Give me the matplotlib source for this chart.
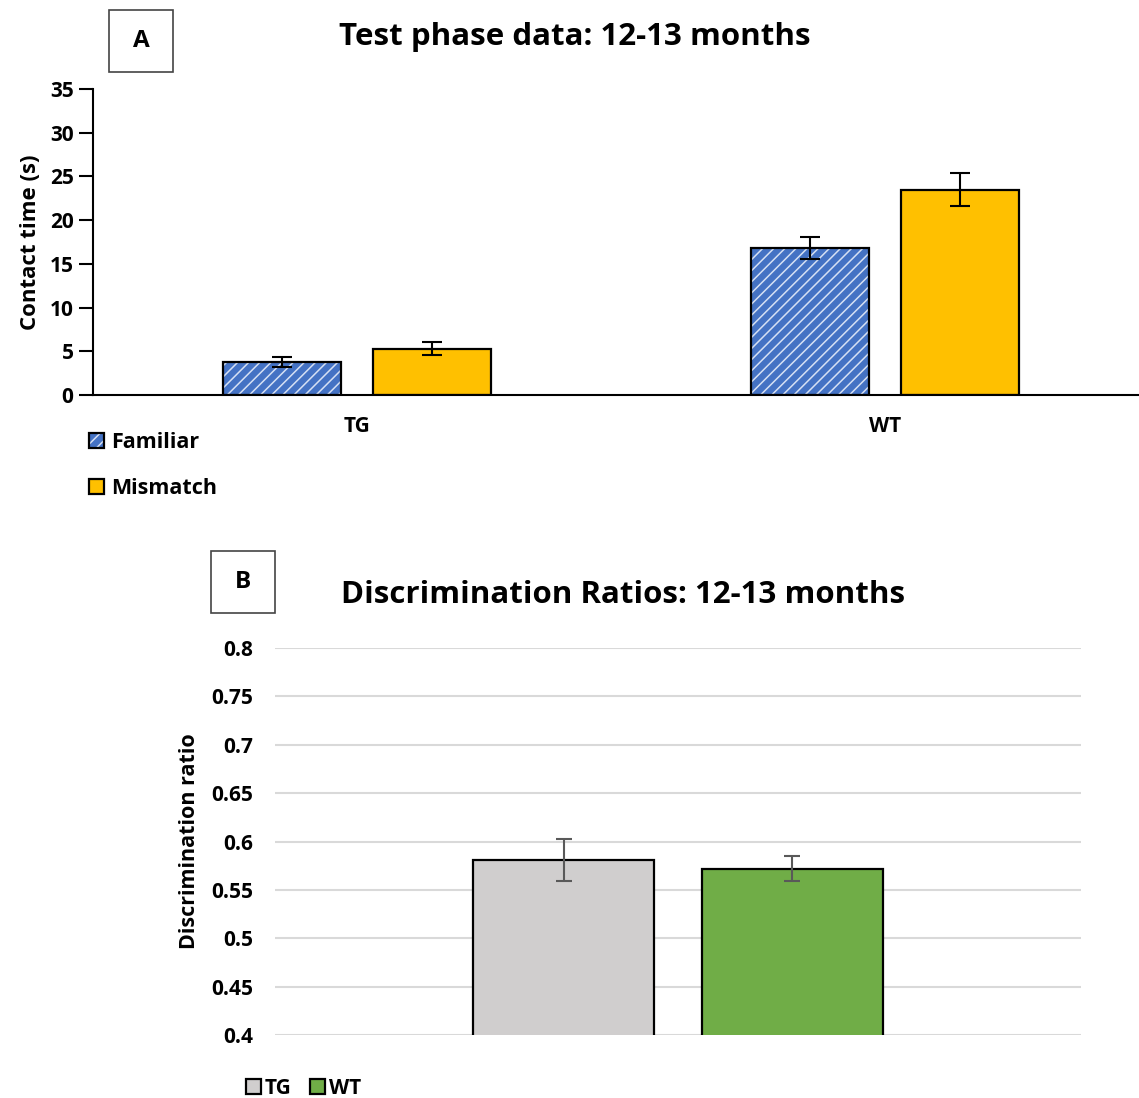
import numpy as np
import matplotlib.pyplot as plt
from matplotlib.patches import Rectangle

plt.rcParams['font.family'] = ['Open Sans', 'DejaVu Sans']
plt.rcParams['font.weight'] = 'bold'
plt.rcParams['hatch.color'] = '#d6e0f4'
plt.rcParams['hatch.linewidth'] = 1.1

# panel A data
groups = ['TG', 'WT']
familiar = [3.8, 16.8]
familiar_err = [0.6, 1.25]
mismatch = [5.3, 23.5]
mismatch_err = [0.75, 1.9]

# panel B data
genotypes = ['TG', 'WT']
ratios = [0.581, 0.572]
ratio_err = [0.022, 0.0125]

W, H = 1139, 1098
fig = plt.figure(figsize=(W / 100, H / 100), dpi=100)


def px_axes(x0, y0, x1, y1):
    return fig.add_axes([x0 / W, 1 - y1 / H, (x1 - x0) / W, (y1 - y0) / H])


def label_box(x0, y0, x1, y1, letter):
    fig.patches.append(Rectangle((x0 / W, 1 - y1 / H), (x1 - x0) / W, (y1 - y0) / H,
                                 transform=fig.transFigure, fill=False,
                                 edgecolor='#444444', linewidth=1.2))
    fig.text((x0 + x1) / 2 / W, 1 - (y0 + y1) / 2 / H, letter, ha='center',
             va='center', fontsize=17.5, fontweight='bold')


# ---- panel A ----
axA = px_axes(93, 89, 1139, 395)
x = np.arange(len(groups))
off, bw = 0.142, 0.225
b1 = axA.bar(x - off, familiar, bw, color='#4472C4', hatch='///', zorder=2)
b1e = axA.bar(x - off, familiar, bw, fill=False, edgecolor='black', linewidth=1.6, zorder=3)
b2 = axA.bar(x + off, mismatch, bw, color='#FFC000', edgecolor='black', linewidth=1.6, zorder=2)
axA.errorbar(x - off, familiar, yerr=familiar_err, fmt='none', ecolor='black',
             elinewidth=1.5, capsize=7, capthick=1.5, zorder=4)
axA.errorbar(x + off, mismatch, yerr=mismatch_err, fmt='none', ecolor='black',
             elinewidth=1.5, capsize=7, capthick=1.5, zorder=4)
axA.set_xlim(-0.5, -0.5 + (1139 - 93) / 528)
axA.set_ylim(0, 35)
axA.set_yticks(range(0, 36, 5))
axA.set_xticks(x)
axA.set_xticklabels(groups, fontsize=15, fontweight='bold')
axA.tick_params(axis='x', length=0, pad=15)
axA.tick_params(axis='y', labelsize=15, length=10, width=1.5, direction='out', pad=4)
for lab in axA.get_yticklabels():
    lab.set_fontweight('bold')
axA.spines['top'].set_visible(False)
axA.spines['right'].set_visible(False)
axA.spines['left'].set_linewidth(1.5)
axA.spines['bottom'].set_linewidth(1.5)
axA.set_ylabel('Contact time (s)', fontsize=16, fontweight='bold', labelpad=6)
axA.legend([(b1[0], b1e[0]), b2[0]], ['Familiar', 'Mismatch'],
           loc='upper left', bbox_to_anchor=(-0.004, -0.122), frameon=False,
           fontsize=15.5, handlelength=0.7, handleheight=0.7, handletextpad=0.35,
           labelspacing=1.15, borderaxespad=0, borderpad=0)
fig.text(575 / W, 1 - 37 / H, 'Test phase data: 12-13 months', ha='center',
         va='center', fontsize=22.5, fontweight='bold')
label_box(109, 10, 173, 72, 'A')

# ---- panel B ----
axB = px_axes(275, 648, 1081, 1035)
offB, bwB = 0.142, 0.2246
cols = ['#D0CECE', '#70AD47']
hB = []
for i, g in enumerate(genotypes):
    xi = (-offB, offB)[i]
    b = axB.bar(xi, ratios[i], bwB, bottom=0, color=cols[i], edgecolor='black',
                linewidth=1.6, zorder=3)
    hB.append(b[0])
    axB.errorbar(xi, ratios[i], yerr=ratio_err[i], fmt='none', ecolor='#595959',
                 elinewidth=1.5, capsize=6, capthick=1.5, zorder=4)
axB.set_xlim(-0.5, 0.5)
axB.set_ylim(0.4, 0.8)
axB.set_yticks(np.arange(0.4, 0.801, 0.05))
axB.set_yticklabels(['0.4', '0.45', '0.5', '0.55', '0.6', '0.65', '0.7', '0.75', '0.8'],
                    fontsize=15, fontweight='bold')
axB.tick_params(axis='y', length=0, pad=16)
axB.set_xticks([])
axB.grid(axis='y', color='#D9D9D9', linewidth=1.5, zorder=0)
axB.set_axisbelow(True)
for s in axB.spines.values():
    s.set_visible(False)
axB.set_ylabel('Discrimination ratio', fontsize=15.5, fontweight='bold', labelpad=8)
axB.legend(hB, genotypes, loc='upper left', bbox_to_anchor=(-0.036, -0.11),
           ncol=2, frameon=False, fontsize=15, handlelength=0.7, handleheight=0.7,
           handletextpad=0.2, columnspacing=0.9, borderaxespad=0, borderpad=0)
fig.text(623 / W, 1 - 595 / H, 'Discrimination Ratios: 12-13 months', ha='center',
         va='center', fontsize=22.5, fontweight='bold')
label_box(211, 551, 275, 613, 'B')

fig.savefig('out.png', dpi=100)
